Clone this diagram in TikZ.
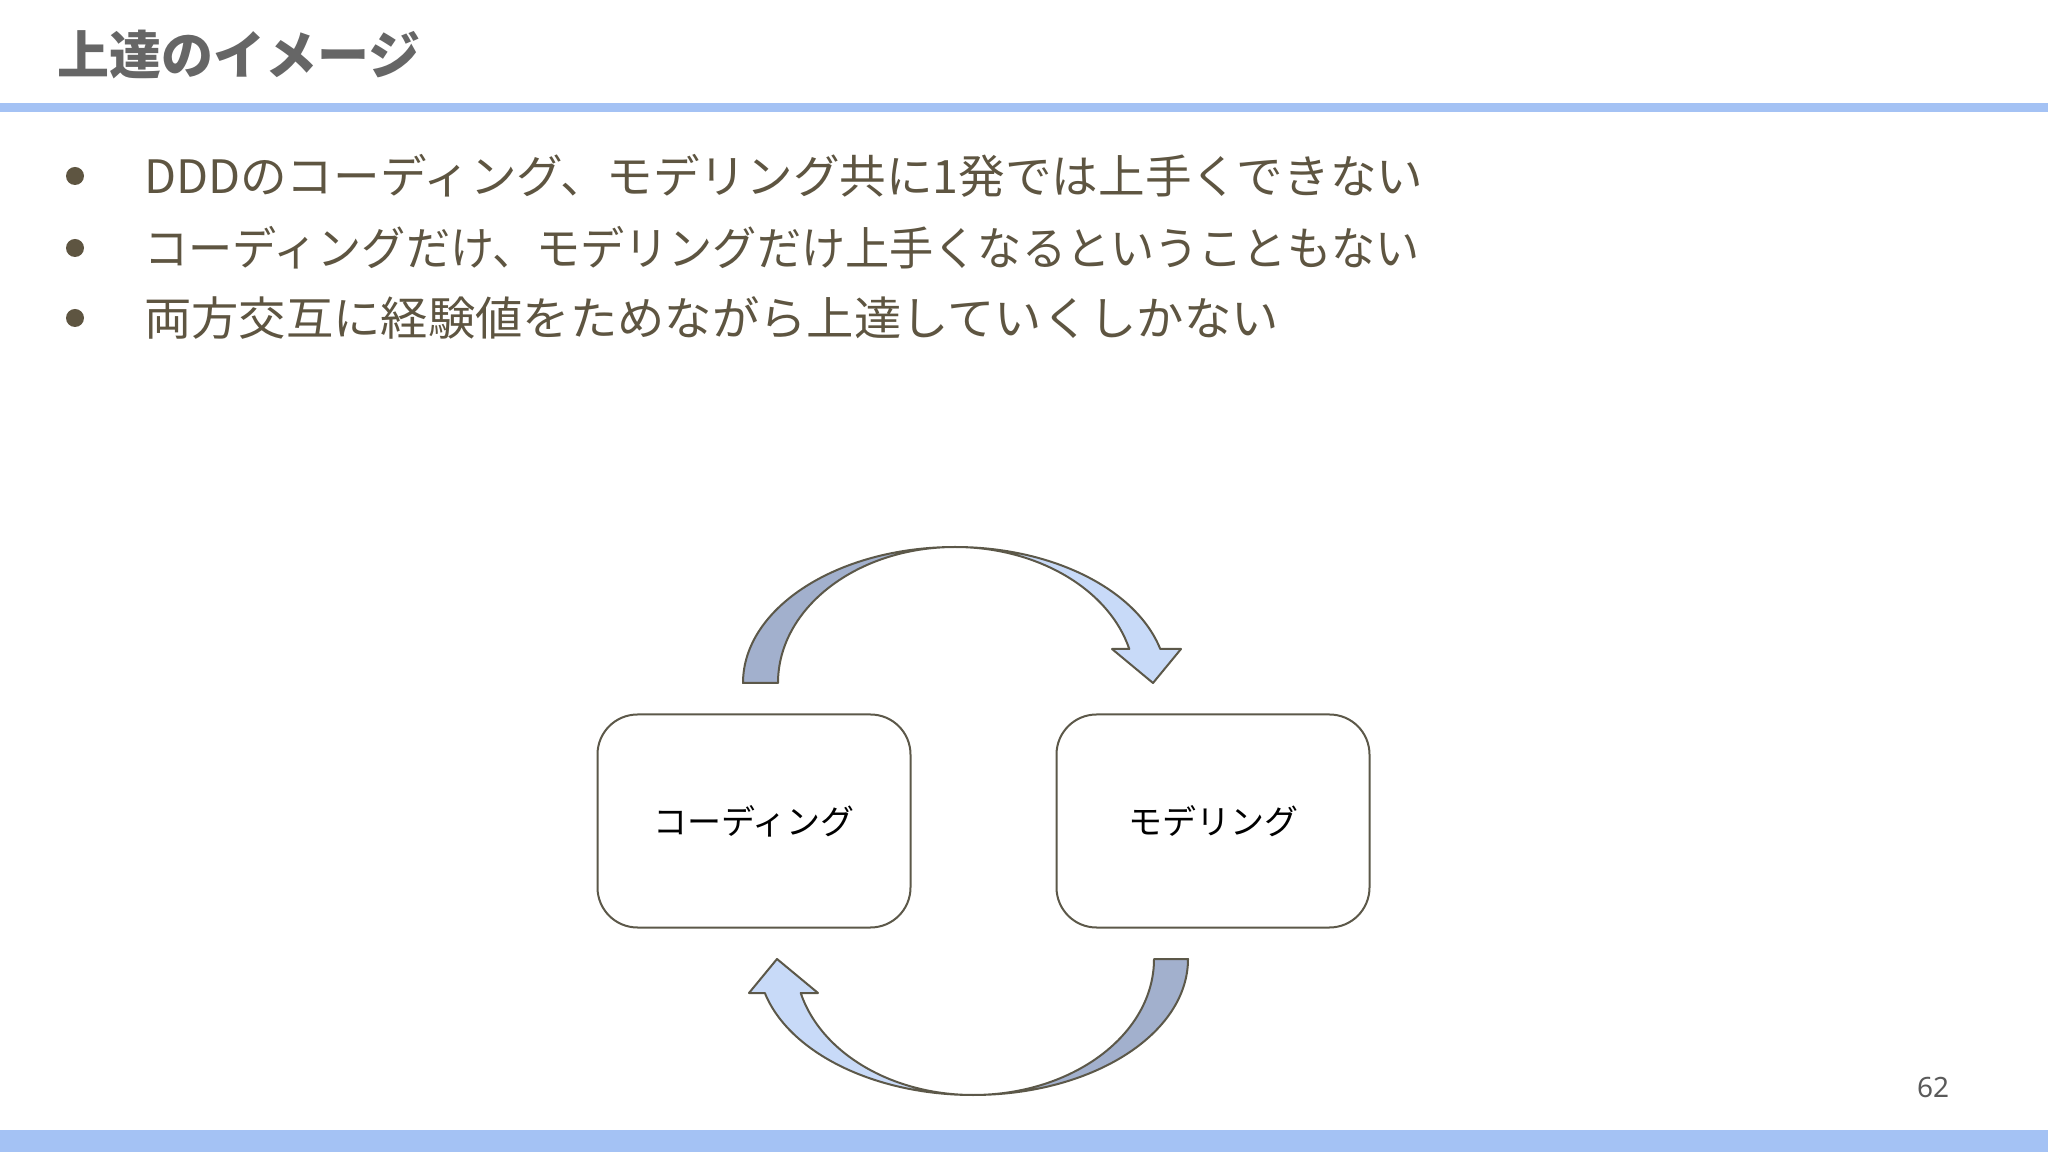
\documentclass[tikz,border=0pt]{standalone}
\usepackage{graphicx}
\usepackage{fontspec}
\setmainfont{Noto Sans}
\newfontfamily\jp{Noto Sans CJK JP}
\definecolor{bar}{HTML}{A4C2F4}
\definecolor{txt}{HTML}{5E5541}
\definecolor{ttl}{HTML}{666666}
\definecolor{edge}{HTML}{5C5849}
\definecolor{arrdark}{HTML}{A2B0CD}
\definecolor{arrlight}{HTML}{C8DAF8}
\definecolor{pgnum}{HTML}{5A5A5A}
\begin{document}
\begin{tikzpicture}[x=1pt,y=1pt,
  box/.style={draw=edge, line width=2pt, rounded corners=40pt, minimum width=313pt, minimum height=213pt, fill=white, text=black, font=\jp\fontsize{34}{40}\selectfont},
  bullettext/.style={anchor=west, text=txt, inner sep=0pt, font=\jp\fontsize{46}{54}\selectfont},
  bulletdot/.style={circle, fill=txt, minimum size=18pt, inner sep=0pt},
  blockarrow/.style={draw=edge, line width=2pt, line join=round}]
\useasboundingbox (0,0) rectangle (2048,1152);
\fill[white] (0,0) rectangle (2048,1152);
% bars
\fill[bar] (0,1040) rectangle (2048,1049);
\fill[bar] (0,0) rectangle (2048,22);
% title
\node[anchor=west, inner sep=0pt, text=ttl, font=\jp\bfseries\fontsize{52}{60}\selectfont] (title) at (57,1097) {上達のイメージ};
% bullets
\node[bulletdot] (b1) at (75,976) {};
\node[bulletdot] (b2) at (75,904) {};
\node[bulletdot] (b3) at (75,834) {};
\node[bullettext] (t1) at (144,976) {\scalebox{1.013}[1]{DDDのコーディング、モデリング共に1発では上手くできない}};
\node[bullettext] (t2) at (144,904) {\scalebox{0.96}[1]{コーディングだけ、モデリングだけ上手くなるということもない}};
\node[bullettext] (t3) at (144,834) {\scalebox{1.029}[1]{両方交互に経験値をためながら上達していくしかない}};
% boxes
\node[box] (coding) at (754,331) {コーディング};
\node[box] (modeling) at (1213,331) {モデリング};
% top curved arrow
\draw[blockarrow, fill=arrdark] (743,469) arc[start angle=180, end angle=90, x radius=212, y radius=136]
  arc[start angle=90, end angle=180, x radius=177, y radius=136] -- cycle;
\draw[blockarrow, fill=arrlight] (955,605) arc[start angle=90, end angle=14.48, x radius=212, y radius=136]
  -- (1181,503) -- (1153,469) -- (1112,503) -- (1129.3,503)
  arc[start angle=14.48, end angle=90, x radius=180, y radius=136] -- cycle;
% bottom curved arrow
\draw[blockarrow, fill=arrdark] (1188,193) arc[start angle=0, end angle=-90, x radius=215, y radius=136]
  arc[start angle=-90, end angle=0, x radius=181, y radius=136] -- cycle;
\draw[blockarrow, fill=arrlight] (973,57) arc[start angle=270, end angle=194.48, x radius=215, y radius=136]
  -- (749,159) -- (777,193) -- (818,159) -- (800.7,159)
  arc[start angle=194.48, end angle=270, x radius=178, y radius=136] -- cycle;
% page number
\node[text=pgnum, inner sep=0pt, font=\fontsize{28}{32}\selectfont] (pg) at (1933,1152-1088) {62};
\end{tikzpicture}
\end{document}
